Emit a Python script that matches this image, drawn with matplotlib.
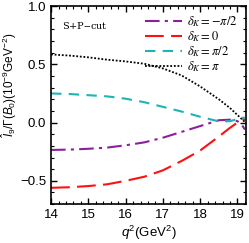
import matplotlib.pyplot as plt
from matplotlib.font_manager import FontProperties
from matplotlib.ticker import MultipleLocator

plt.rcParams['font.family'] = 'Liberation Sans'
plt.rcParams['mathtext.fontset'] = 'custom'
plt.rcParams['mathtext.rm'] = 'Liberation Sans'
plt.rcParams['mathtext.it'] = 'Liberation Sans:italic'
plt.rcParams['mathtext.bf'] = 'Liberation Sans:bold'

q2 = [14.0, 14.5, 15.0, 15.5, 16.0, 16.5, 17.0, 17.5, 18.0, 18.5, 18.8, 19.0, 19.1, 19.2]
i9_m_pi2 = [-0.235, -0.232, -0.225, -0.215, -0.195, -0.17, -0.13, -0.08, -0.03, 0.02, 0.025, 0.012, -0.01, -0.06]
i9_zero = [-0.56, -0.555, -0.545, -0.53, -0.50, -0.465, -0.41, -0.33, -0.24, -0.12, -0.045, 0.0, 0.02, 0.03]
i9_pi2 = [0.25, 0.245, 0.235, 0.225, 0.205, 0.175, 0.135, 0.095, 0.05, 0.01, 0.012, 0.03, 0.045, 0.04]
i9_pi = [0.585, 0.575, 0.56, 0.54, 0.525, 0.505, 0.465, 0.405, 0.31, 0.20, 0.125, 0.065, 0.035, 0.005]

labels = [r'$\delta_K=-\pi/2$', r'$\delta_K=0$', r'$\delta_K=\pi/2$', r'$\delta_K=\pi$']

fig = plt.figure(figsize=(2.49, 2.43), dpi=100)
ax = fig.add_axes([0.205, 0.160, 0.783, 0.815])

ax.plot(q2, i9_m_pi2, color='#8e1f9c', lw=1.5, dashes=(7, 2.5, 1.5, 2.5), label=labels[0])
ax.plot(q2, i9_zero, color='#ff1010', lw=1.5, dashes=(9, 3.5), label=labels[1])
ax.plot(q2, i9_pi2, color='#1cb4b4', lw=1.5, dashes=(5, 3.5), label=labels[2])
ax.plot(q2, i9_pi, color='black', lw=1.3, dashes=(1, 1), label=labels[3])

ax.set_xlim(14, 19.23)
ax.set_ylim(-0.7, 1.0)
ax.xaxis.set_major_locator(MultipleLocator(1))
ax.xaxis.set_minor_locator(MultipleLocator(0.2))
ax.yaxis.set_major_locator(MultipleLocator(0.5))
ax.yaxis.set_minor_locator(MultipleLocator(0.1))
ax.tick_params(which='both', direction='in', top=True, right=True, labelsize=9.5)
ax.tick_params(which='major', length=4, width=1)
ax.tick_params(which='minor', length=2, width=0.8)
for s in ax.spines.values():
    s.set_linewidth(1.2)

ax.set_xlabel(r'$q^2(\mathrm{GeV}^2)$', fontsize=9.5, labelpad=2)
ax.set_ylabel(r'$\hat{I}_9/\Gamma(B_0)(10^{-9}\mathrm{GeV}^{-2})$', fontsize=8.5)
ax.yaxis.set_label_coords(-0.165, 0.6)

ax.text(14.3, 0.80, 'S+P$-$cut', fontsize=7, family='serif', math_fontfamily='stix')

fp = FontProperties(family='serif', size=9, math_fontfamily='stix')
ax.legend(loc='upper right', frameon=False, prop=fp, handlelength=3.0,
          labelspacing=0.02, borderaxespad=0.25, handletextpad=0.4)

fig.savefig('out.png', dpi=100)
